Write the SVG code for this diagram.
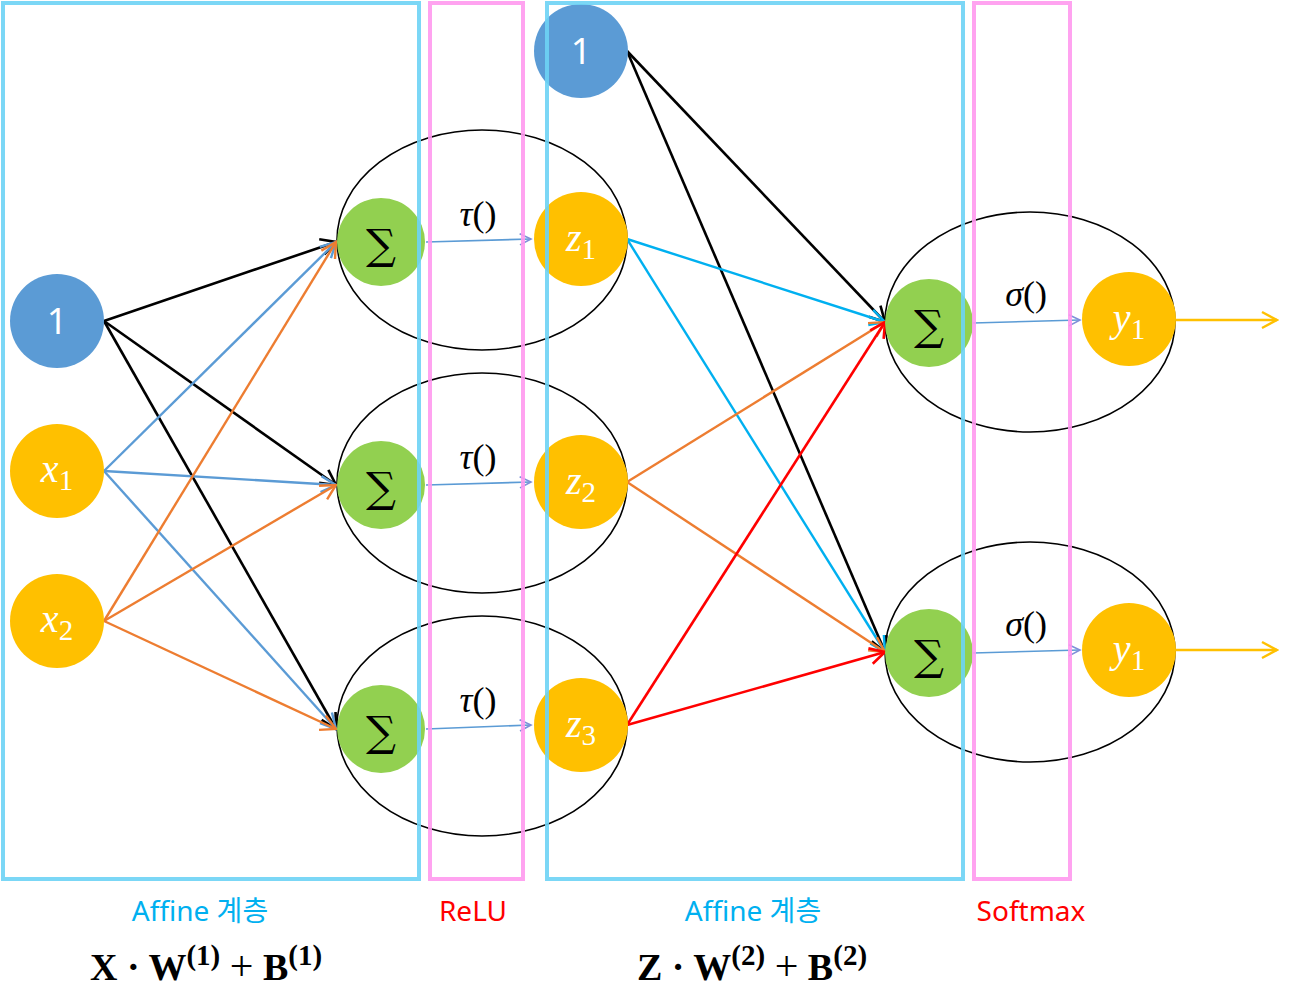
<svg xmlns="http://www.w3.org/2000/svg" width="1293" height="998" viewBox="0 0 1293 998">
<style>
.ell{fill:none;stroke:#000;stroke-width:1.6}
.blue{fill:#5B9BD5}
.yel{fill:#FFC000}
.grn{fill:#92D050}
.one{font-family:"Noto Sans","Liberation Sans",sans-serif;font-size:36px;fill:#fff;text-anchor:middle}
.var{font-family:"Liberation Serif",serif;font-size:40px;fill:#fff;text-anchor:middle}
.var .it{font-style:italic}
.var .sub{font-size:29px}
.sig{font-family:"DejaVu Serif","Liberation Serif",serif;font-size:42px;fill:#000;text-anchor:middle}
.fn{font-family:"Liberation Serif",serif;font-size:36px;fill:#000;text-anchor:middle}
.fn .it{font-style:italic}
.lbl{font-family:"Noto Sans","Noto Sans CJK KR",sans-serif;font-size:28px;text-anchor:middle}
.cy{fill:#00B0F0}
.rd{fill:#FF0000}
.frm{font-family:"Liberation Serif",serif;font-size:38px;font-weight:bold;fill:#000}
.frm .sup{font-size:29px}
.frm .pl{font-weight:normal;font-size:42px}
.rc{fill:none;stroke:#6DD3F5;stroke-width:4;opacity:0.9}
.rp{fill:none;stroke:#FF99EE;stroke-width:4;opacity:0.9}
.k{stroke:#000;stroke-width:2.6;fill:none}
.b{stroke:#5B9BD5;stroke-width:2.4;fill:none}
.o{stroke:#ED7D31;stroke-width:2.4;fill:none}
.c{stroke:#00B0F0;stroke-width:2.4;fill:none}
.r{stroke:#FF0000;stroke-width:2.6;fill:none}
.t{stroke:#5B9BD5;stroke-width:1.6;fill:none}
.y{stroke:#FFC000;stroke-width:2.4;fill:none}
</style>
<defs>
<marker id="ak" viewBox="0 0 20 20" refX="18" refY="10" markerWidth="20" markerHeight="20" markerUnits="userSpaceOnUse" orient="auto"><path d="M3,2 L18,10 L3,18" fill="none" stroke="#000" stroke-width="2.6"/></marker>
<marker id="ab" viewBox="0 0 20 20" refX="18" refY="10" markerWidth="20" markerHeight="20" markerUnits="userSpaceOnUse" orient="auto"><path d="M3,2 L18,10 L3,18" fill="none" stroke="#5B9BD5" stroke-width="2.4"/></marker>
<marker id="ao" viewBox="0 0 20 20" refX="18" refY="10" markerWidth="20" markerHeight="20" markerUnits="userSpaceOnUse" orient="auto"><path d="M3,2 L18,10 L3,18" fill="none" stroke="#ED7D31" stroke-width="2.4"/></marker>
<marker id="ac" viewBox="0 0 20 20" refX="18" refY="10" markerWidth="20" markerHeight="20" markerUnits="userSpaceOnUse" orient="auto"><path d="M3,2 L18,10 L3,18" fill="none" stroke="#00B0F0" stroke-width="2.4"/></marker>
<marker id="ar" viewBox="0 0 20 20" refX="18" refY="10" markerWidth="20" markerHeight="20" markerUnits="userSpaceOnUse" orient="auto"><path d="M3,2 L18,10 L3,18" fill="none" stroke="#FF0000" stroke-width="2.6"/></marker>
<marker id="at" viewBox="0 0 20 20" refX="18" refY="10" markerWidth="16" markerHeight="16" markerUnits="userSpaceOnUse" orient="auto"><path d="M4,3 L18,10 L4,17" fill="none" stroke="#7F8FD8" stroke-width="2"/></marker>
<marker id="ay" viewBox="0 0 20 20" refX="18" refY="10" markerWidth="20" markerHeight="20" markerUnits="userSpaceOnUse" orient="auto"><path d="M3,2 L18,10 L3,18" fill="none" stroke="#FFC000" stroke-width="2.4"/></marker>
</defs>
<rect width="1293" height="998" fill="#fff"/>

<g id="ellipses">
<ellipse class="ell" cx="482" cy="240" rx="145" ry="110"/>
<ellipse class="ell" cx="482" cy="483" rx="145" ry="110"/>
<ellipse class="ell" cx="482" cy="726" rx="145" ry="110"/>
<ellipse class="ell" cx="1030" cy="322" rx="145" ry="110"/>
<ellipse class="ell" cx="1030" cy="652" rx="145" ry="110"/>
</g>

<g id="connectors">
<line class="k" x1="104" y1="321" x2="336" y2="242" marker-end="url(#ak)"/>
<line class="k" x1="104" y1="321" x2="336" y2="485" marker-end="url(#ak)"/>
<line class="k" x1="104" y1="321" x2="336" y2="729" marker-end="url(#ak)"/>
<line class="b" x1="104" y1="471" x2="336" y2="242" marker-end="url(#ab)"/>
<line class="b" x1="104" y1="471" x2="336" y2="485" marker-end="url(#ab)"/>
<line class="b" x1="104" y1="471" x2="336" y2="729" marker-end="url(#ab)"/>
<line class="o" x1="104" y1="621" x2="336" y2="242" marker-end="url(#ao)"/>
<line class="o" x1="104" y1="621" x2="336" y2="485" marker-end="url(#ao)"/>
<line class="o" x1="104" y1="621" x2="336" y2="729" marker-end="url(#ao)"/>
<line class="t" x1="426" y1="242" x2="531" y2="239" marker-end="url(#at)"/>
<line class="t" x1="426" y1="485" x2="531" y2="482" marker-end="url(#at)"/>
<line class="t" x1="426" y1="729" x2="531" y2="725" marker-end="url(#at)"/>
<line class="k" x1="627" y1="51" x2="885" y2="322" marker-end="url(#ak)"/>
<line class="k" x1="627" y1="51" x2="885" y2="652" marker-end="url(#ak)"/>
<line class="c" x1="627" y1="239" x2="885" y2="322" marker-end="url(#ac)"/>
<line class="c" x1="627" y1="239" x2="885" y2="652" marker-end="url(#ac)"/>
<line class="o" x1="627" y1="482" x2="885" y2="322" marker-end="url(#ao)"/>
<line class="o" x1="627" y1="482" x2="885" y2="652" marker-end="url(#ao)"/>
<line class="r" x1="627" y1="725" x2="885" y2="322" marker-end="url(#ar)"/>
<line class="r" x1="627" y1="725" x2="885" y2="652" marker-end="url(#ar)"/>
<line class="t" x1="973" y1="323" x2="1080" y2="320" marker-end="url(#at)"/>
<line class="t" x1="973" y1="653" x2="1080" y2="650" marker-end="url(#at)"/>
<line class="y" x1="1176" y1="320" x2="1277" y2="320" marker-end="url(#ay)"/>
<line class="y" x1="1176" y1="650" x2="1277" y2="650" marker-end="url(#ay)"/>
</g>

<g id="bias1"><circle class="blue" cx="57" cy="321" r="47"/><text class="one" x="57" y="334">1</text></g>
<g id="x1"><circle class="yel" cx="57" cy="471" r="47"/><text class="var" x="57" y="482"><tspan class="it">x</tspan><tspan class="sub" dy="8">1</tspan></text></g>
<g id="x2"><circle class="yel" cx="57" cy="621" r="47"/><text class="var" x="57" y="632"><tspan class="it">x</tspan><tspan class="sub" dy="8">2</tspan></text></g>

<g id="sum1"><circle class="grn" cx="381" cy="242" r="44"/><text class="sig" x="381" y="259">∑</text></g>
<g id="sum2"><circle class="grn" cx="381" cy="485" r="44"/><text class="sig" x="381" y="502">∑</text></g>
<g id="sum3"><circle class="grn" cx="381" cy="729" r="44"/><text class="sig" x="381" y="746">∑</text></g>

<g id="tau1"><text class="fn" x="478" y="226"><tspan class="it">τ</tspan>()</text></g>
<g id="tau2"><text class="fn" x="478" y="469"><tspan class="it">τ</tspan>()</text></g>
<g id="tau3"><text class="fn" x="478" y="712"><tspan class="it">τ</tspan>()</text></g>

<g id="bias2"><circle class="blue" cx="581" cy="51" r="47"/><text class="one" x="581" y="64">1</text></g>
<g id="z1"><circle class="yel" cx="581" cy="239" r="47"/><text class="var" x="581" y="251"><tspan class="it">z</tspan><tspan class="sub" dy="8">1</tspan></text></g>
<g id="z2"><circle class="yel" cx="581" cy="482" r="47"/><text class="var" x="581" y="494"><tspan class="it">z</tspan><tspan class="sub" dy="8">2</tspan></text></g>
<g id="z3"><circle class="yel" cx="581" cy="725" r="47"/><text class="var" x="581" y="737"><tspan class="it">z</tspan><tspan class="sub" dy="8">3</tspan></text></g>

<g id="sum4"><circle class="grn" cx="929" cy="323" r="44"/><text class="sig" x="929" y="340">∑</text></g>
<g id="sum5"><circle class="grn" cx="929" cy="653" r="44"/><text class="sig" x="929" y="670">∑</text></g>

<g id="sigma1"><text class="fn" x="1026" y="306"><tspan class="it">σ</tspan>()</text></g>
<g id="sigma2"><text class="fn" x="1026" y="636"><tspan class="it">σ</tspan>()</text></g>

<g id="y1a"><circle class="yel" cx="1129" cy="319" r="47"/><text class="var" x="1129" y="331"><tspan class="it">y</tspan><tspan class="sub" dy="8">1</tspan></text></g>
<g id="y1b"><circle class="yel" cx="1129" cy="650" r="47"/><text class="var" x="1129" y="662"><tspan class="it">y</tspan><tspan class="sub" dy="8">1</tspan></text></g>

<g id="frames">
<rect class="rc" x="3" y="3" width="416" height="876"/>
<rect class="rp" x="430" y="3" width="93" height="876"/>
<rect class="rc" x="547" y="3" width="416" height="876"/>
<rect class="rp" x="974" y="3" width="96" height="876"/>
</g>

<g id="labels">
<text class="lbl cy" x="200" y="921">Affine 계층</text>
<text class="lbl rd" x="473" y="921">ReLU</text>
<text class="lbl cy" x="753" y="921">Affine 계층</text>
<text class="lbl rd" x="1031" y="921">Softmax</text>
<text class="frm" x="90" y="980">X · W<tspan class="sup" dy="-15">(1)</tspan><tspan dy="15"> </tspan><tspan class="pl">+</tspan> B<tspan class="sup" dy="-15">(1)</tspan></text>
<text class="frm" x="637" y="980">Z · W<tspan class="sup" dy="-15">(2)</tspan><tspan dy="15"> </tspan><tspan class="pl">+</tspan> B<tspan class="sup" dy="-15">(2)</tspan></text>
</g>
</svg>
